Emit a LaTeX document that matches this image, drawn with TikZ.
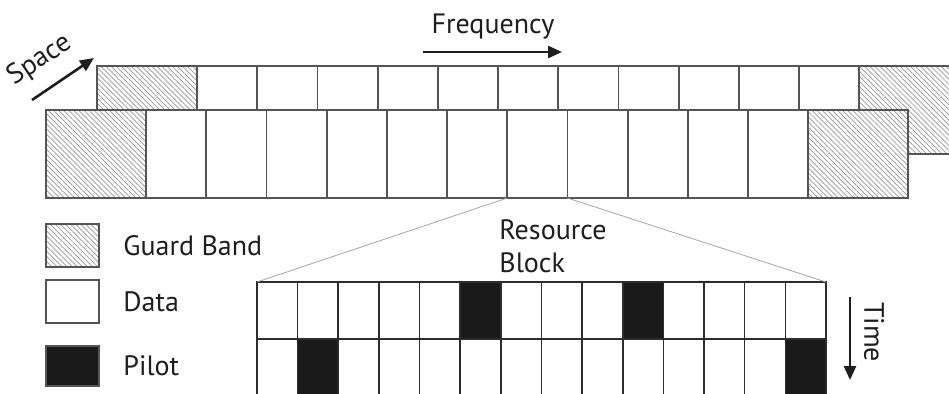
\documentclass[tikz,border=0pt]{standalone}
\usepackage{fontspec}
\setmainfont{PT Sans}
\usetikzlibrary{
  arrows.meta,
  patterns.meta,
  positioning
}
\definecolor{cellcolor}{RGB}{85,85,85}
\definecolor{gridcolor}{RGB}{45,45,45}
\definecolor{pilotcolor}{RGB}{26,26,26}
\definecolor{hatchcolor}{RGB}{150,150,150}
\definecolor{zoomcolor}{RGB}{165,165,165}
\definecolor{labelcolor}{RGB}{30,30,30}
\tikzset{
cell/.style={
  draw=cellcolor,
  line width=0.9pt,
  fill=white,
  inner sep=0pt,
  outer sep=0pt,
  anchor=north west
},
datacell/.style={
  cell,
  minimum width=30.1pt,
  minimum height=44pt
},
hatched/.style={
  preaction={fill=white},
  pattern={Lines[angle=-45,distance=1.8pt,line width=0.35pt]},
  pattern color=hatchcolor
},
guardcell/.style={
  cell,
  hatched,
  minimum width=50pt,
  minimum height=44pt
},
rbcell/.style={
  cell,
  draw=gridcolor,
  line width=0.8pt,
  minimum width=20.32pt,
  minimum height=28.5pt
},
pilot1-6/.style={fill=pilotcolor},
pilot1-10/.style={fill=pilotcolor},
pilot2-2/.style={fill=pilotcolor},
pilot2-14/.style={fill=pilotcolor},
legendbox/.style={
  cell,
  minimum width=26.5pt,
  minimum height=21.5pt
},
labeltext/.style={
  font=\fontsize{14}{16.5}\selectfont,
  text=labelcolor,
  inner sep=0pt
},
axisarrow/.style={
  -{Triangle[length=7pt,width=6pt]},
  line width=1.3pt,
  draw=labelcolor
},
zoomline/.style={
  draw=zoomcolor,
  line width=0.4pt
}
}

\begin{document}
\begin{tikzpicture}[x=0.5pt,y=-0.5pt]
  \useasboundingbox (0,0) rectangle (949,393);
  \clip (0,0) rectangle (949,393);

  % back layer
  \node[guardcell] (bg1) at (97,66) {};
  \foreach \i in {1,...,11}
    \node[datacell] (b\i) at ({197+(\i-1)*60.2},66) {};
  \node[guardcell] (bg2) at (859.2,66) {};

  % front layer
  \node[guardcell] (fg1) at (46,110) {};
  \foreach \i in {1,...,11}
    \node[datacell] (f\i) at ({146+(\i-1)*60.2},110) {};
  \node[guardcell] (fg2) at (808.2,110) {};

  % axes
  \coordinate (freqstart) at (423,52);
  \coordinate (freqend) at (562,52);
  \draw[axisarrow] (freqstart) -- (freqend);
  \node[labeltext] (freq) at (493,27) {Frequency};

  \coordinate (spacestart) at (32,100);
  \coordinate (spaceend) at (94,58);
  \draw[axisarrow] (spacestart) -- (spaceend);
  \node[labeltext, rotate=34] (space) at (40,60) {Space};

  % resource block
  \foreach \r in {1,2}
    \foreach \c in {1,...,14}
      \node[rbcell, pilot\r-\c/.try] (rb\r-\c) at ({257+(\c-1)*40.64},{282+(\r-1)*57}) {};

  \draw[zoomline] (f7.south west) -- (rb1-1.north west);
  \draw[zoomline] (f7.south east) -- (rb1-14.north east);
  \node[labeltext, align=left, anchor=west] (rblabel) at (499,246) {Resource\\Block};

  \coordinate (timestart) at (850,297);
  \coordinate (timeend) at (850,380);
  \draw[axisarrow] (timestart) -- (timeend);
  \node[labeltext, rotate=-90] (time) at (874,332) {Time};

  % legend
  \node[legendbox, hatched] (lgguard) at (46,224) {};
  \node[legendbox] (lgdata) at (46,280) {};
  \node[legendbox, fill=pilotcolor, minimum height=20pt] (lgpilot) at (46,346) {};
  \node[labeltext, right=12pt of lgguard] {Guard Band};
  \node[labeltext, right=12pt of lgdata] {Data};
  \node[labeltext, right=12pt of lgpilot] {Pilot};
\end{tikzpicture}
\end{document}
